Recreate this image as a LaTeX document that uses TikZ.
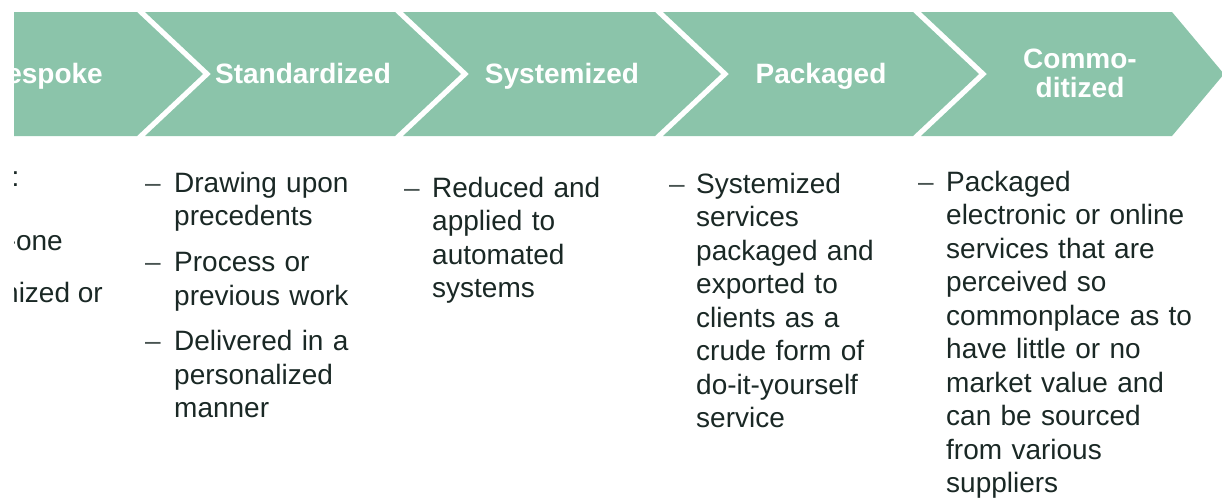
\documentclass[tikz,border=0pt]{standalone}
\usepackage{fontspec}
\setmainfont{Liberation Sans}
\usetikzlibrary{positioning}

\definecolor{chevgreen}{RGB}{139,196,170}
\definecolor{textdark}{RGB}{26,40,37}

\tikzset{
  chev/.style={fill=chevgreen,draw=none},
  head/.style={text=white,font=\fontsize{28}{29}\selectfont\bfseries,align=center,inner sep=0pt},
  body/.style={text=textdark,font=\fontsize{28}{33.5}\selectfont,inner sep=0pt,text width=280pt,align=left},
  dashmark/.style={text=textdark!80,font=\fontsize{28}{33.5}\selectfont,inner sep=0pt}
}

\begin{document}
\begin{tikzpicture}[x=1pt,y=-1pt]

\useasboundingbox (0,0) rectangle (1222,499);
\clip (14,0) rectangle (1222,499);

% chevrons
\fill [chev] (0,12) -- (137,12) -- (203,74) -- (137,136) -- (0,136) -- cycle;
\fill [chev] (145,12) -- (395,12) -- (461,74) -- (395,136) -- (145,136) -- (211,74) -- cycle;
\fill [chev] (403,12) -- (655,12) -- (721,74) -- (655,136) -- (403,136) -- (469,74) -- cycle;
\fill [chev] (663,12) -- (913,12) -- (979,74) -- (913,136) -- (663,136) -- (729,74) -- cycle;
\fill [chev] (921,12) -- (1172,12) -- (1224,74) -- (1172,136) -- (921,136) -- (987,74) -- cycle;

\node [head,anchor=base east] (bespoke) at (103,83) {espoke};
\node [head,anchor=base] (standardized) at (303,83) {Standardized};
\node [head,anchor=base] (systemized) at (562,83) {Systemized};
\node [head,anchor=base] (packaged) at (821,83) {Packaged};
\node [head,anchor=base] (commoditized) at (1080,97) {Commo-\\ditized};

% first column, cut at the left
\node [body,text width=,anchor=base east] (b1) at (19.5,186) {:};
\node [body,text width=,anchor=base east] (b2) at (63,250) {-one};
\node [body,text width=,anchor=base east] (b3) at (103,302) {nized or};

% second column
\node [body,anchor=base west] (s1) at (174,192) {Drawing upon\\precedents};
\node [body,anchor=base west] (s2) at (174,271.5) {Process or\\previous work};
\node [body,anchor=base west] (s3) at (174,350.5) {Delivered in a\\personalized\\manner};
\node [dashmark,anchor=base west] (ds1) at (145,192) {--};
\node [dashmark,anchor=base west] (ds2) at (145,271.5) {--};
\node [dashmark,anchor=base west] (ds3) at (145,350.5) {--};

% third column
\node [body,anchor=base west] (y1) at (432,197) {Reduced and\\applied to\\automated\\systems};
\node [dashmark,anchor=base west] (dy1) at (404,197) {--};

% fourth column
\node [body,anchor=base west] (p1) at (696,193) {Systemized\\services\\packaged and\\exported to\\clients as a\\crude form of\\do-it-yourself\\service};
\node [dashmark,anchor=base west] (dp1) at (669,193) {--};

% fifth column
\node [body,anchor=base west] (c1) at (946,191) {Packaged\\electronic or online\\services that are\\perceived so\\commonplace as to\\have little or no\\market value and\\can be sourced\\from various\\suppliers};
\node [dashmark,anchor=base west] (dc1) at (918,191) {--};

\end{tikzpicture}
\end{document}
